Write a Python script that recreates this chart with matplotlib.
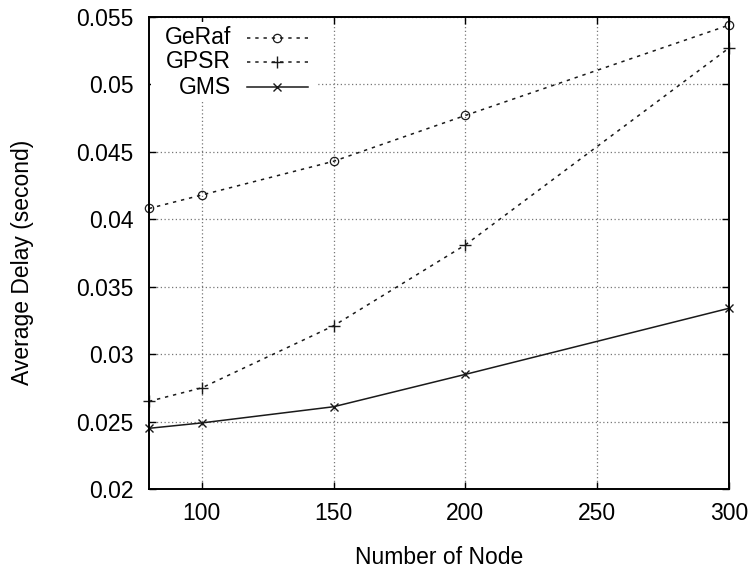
import matplotlib
matplotlib.use("Agg")
import matplotlib.pyplot as plt
from matplotlib.lines import Line2D
from matplotlib.patches import Rectangle
from matplotlib.ticker import FuncFormatter

# Average end-to-end delay vs. network size
nodes = [80, 100, 150, 200, 300]
geraf = [0.0408, 0.0418, 0.0443, 0.0477, 0.0544]
gpsr = [0.0265, 0.0275, 0.0321, 0.0381, 0.0527]
gms = [0.0245, 0.0249, 0.0261, 0.0285, 0.0334]

x_ticks = [100, 150, 200, 250, 300]
y_ticks = [0.02, 0.025, 0.03, 0.035, 0.04, 0.045, 0.05, 0.055]
series_names = ["GeRaf", "GPSR", "GMS"]

plt.rcParams["font.family"] = ["Liberation Sans", "DejaVu Sans"]
FS = 16.5

fig = plt.figure(figsize=(7.55, 5.69), dpi=100)
ax = fig.add_axes([149 / 755, 80 / 569, 580 / 755, 472 / 569])

dash = (0, (2.2, 3.2))
styles = [
    dict(ls=dash, marker="o", mfc="none", ms=6, mew=0.9),
    dict(ls=dash, marker="+", ms=8, mew=1.0),
    dict(ls="-", marker="x", ms=6, mew=1.0),
]
for vals, st in zip([geraf, gpsr, gms], styles):
    ax.plot(nodes, vals, color="#1a1a1a", lw=1.1, mec="#1a1a1a",
            clip_on=False, zorder=3, **st)

ax.set_xlim(80, 300)
ax.set_ylim(0.02, 0.055)
ax.set_xticks(x_ticks)
ax.set_yticks(y_ticks)
ax.yaxis.set_major_formatter(FuncFormatter(lambda v, p: f"{v:g}"))

ax.grid(True, color="#777777", ls=(0, (1, 2)), lw=0.9)
ax.set_axisbelow(True)

ax.tick_params(direction="in", length=5, width=1.0, labelsize=FS,
               top=True, right=True, colors="black")
ax.tick_params(axis="y", pad=11)
ax.tick_params(axis="x", pad=9)
for s in ax.spines.values():
    s.set_linewidth(1.4)
    s.set_zorder(4)

ax.set_xlabel("Number of Node", fontsize=FS)
ax.set_ylabel("Average Delay (second)", fontsize=FS)
ax.xaxis.set_label_coords(0.5, -0.121)
ax.yaxis.set_label_coords(-0.198, 0.48)

# Key in the upper-left corner: labels right-aligned, samples to their right
tr = ax.transAxes
def ax_x(px):
    return (px - 149) / 580
def ax_y(py):
    return (489 - py) / 472

ax.add_patch(Rectangle((ax_x(151), ax_y(100)), ax_x(318) - ax_x(151),
                       ax_y(22) - ax_y(100), transform=tr,
                       facecolor="white", edgecolor="none", zorder=2.5))
rows = [38, 62, 87]
for name, st, py in zip(series_names, styles, rows):
    ax.text(ax_x(231), ax_y(py), name, transform=tr, ha="right",
            va="center", fontsize=FS, zorder=5)
    ax.add_line(Line2D([ax_x(247), ax_x(308)], [ax_y(py), ax_y(py)],
                       transform=tr, color="#1a1a1a", lw=1.1,
                       ls=st["ls"], zorder=5))
    ax.add_line(Line2D([ax_x(277)], [ax_y(py)], transform=tr,
                       color="#1a1a1a", ls="none", marker=st["marker"],
                       mfc="none", mec="#1a1a1a", ms=st["ms"],
                       mew=st["mew"], zorder=5))

fig.savefig("out.png", dpi=100)
